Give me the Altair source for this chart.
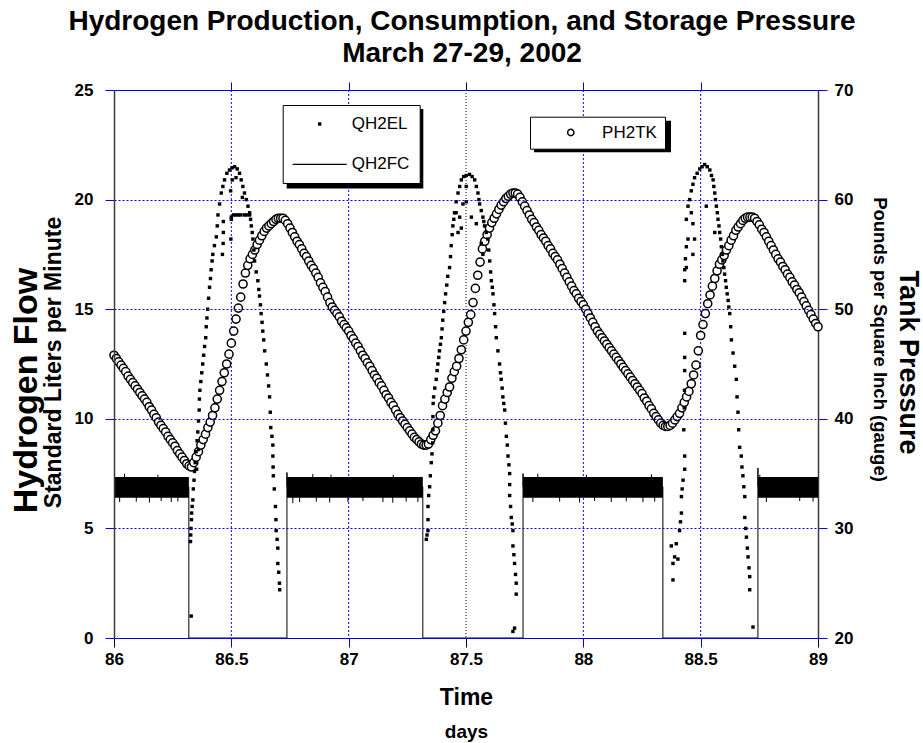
import altair as alt
import pandas as pd

FONT = "Liberation Sans"
BLUE = "#0000ee"
DARK = "#3a3a3a"
NB = "\u00a0"

# ---------------- data ----------------
x_labels = [86, 86.5, 87, 87.5, 88, 88.5, 89]
x_blue_grid = [86.5, 87, 88, 88.5]
x_black_grid = [87.5]
x_black_ticks = [86, 87.5, 89]
flow_ticks = [0, 5, 10, 15, 20, 25]
psi_ticks = [20, 30, 40, 50, 60, 70]

# QH2FC : fuel-cell consumption (on / off)
fc_seg_start = [86.0, 86.737, 87.743, 88.744]
fc_seg_end = [86.319, 87.316, 88.339, 89.0]
fc_band_lo = [6.4, 6.4, 6.4, 6.4]
fc_band_hi = [7.35, 7.35, 7.35, 7.35]

fc_t = [86.0, 86.319, 86.319, 86.737, 86.737, 86.737, 87.316, 87.316, 87.743,
        87.743, 87.743, 88.339, 88.339, 88.744, 88.744, 88.744, 89.0]
fc_v = [6.9, 6.9, 0, 0, 7.55, 6.9, 6.9, 0, 0, 7.5, 6.9, 6.9, 0, 0, 7.75, 6.9, 6.9]

spike_t = [86.024, 86.095, 86.151, 86.201, 86.244, 86.272, 86.762, 86.791, 86.862,
           86.919, 86.997, 87.061, 87.146, 87.188, 87.245, 87.295, 87.785, 87.899,
           87.984, 88.048, 88.119, 88.183, 88.254, 88.304, 88.780, 88.922, 88.979,
           86.045, 86.187, 86.847, 86.925, 87.190, 87.806, 88.013, 88.290, 88.752]
spike_lo = [6.2, 6.22, 6.18, 6.25, 6.2, 6.23, 6.15, 6.2, 6.22, 6.18, 6.2, 6.25, 6.2,
            6.17, 6.22, 6.2, 6.2, 6.22, 6.18, 6.25, 6.2, 6.23, 6.2, 6.22, 6.2, 6.25, 6.22,
            7.0, 7.0, 7.0, 7.0, 7.0, 7.0, 7.0, 7.0, 7.0]
spike_hi = [6.9, 6.9, 6.9, 6.9, 6.9, 6.9, 6.9, 6.9, 6.9, 6.9, 6.9, 6.9, 6.9, 6.9,
            6.9, 6.9, 6.9, 6.9, 6.9, 6.9, 6.9, 6.9, 6.9, 6.9, 6.9, 6.9, 6.9,
            7.5, 7.45, 7.48, 7.45, 7.45, 7.5, 7.45, 7.47, 7.45]

# QH2EL : electrolyzer production (scattered points)
el_t = [
    # hump 1
    86.329, 86.326, 86.327, 86.328, 86.330, 86.331, 86.333, 86.336, 86.338, 86.341,
    86.343, 86.346, 86.350, 86.354, 86.357, 86.360, 86.363, 86.364, 86.366, 86.370,
    86.374, 86.378, 86.382, 86.386, 86.391, 86.393, 86.396, 86.399, 86.403, 86.407,
    86.411, 86.414, 86.418, 86.421, 86.428, 86.436, 86.440, 86.443, 86.450, 86.457,
    86.464, 86.471, 86.481, 86.492, 86.503, 86.514,
    86.525, 86.535, 86.542, 86.549, 86.556, 86.564, 86.571, 86.578, 86.582, 86.585,
    86.589, 86.592, 86.596, 86.599, 86.606, 86.613, 86.617, 86.620, 86.624, 86.627,
    86.631, 86.634, 86.638, 86.642, 86.649, 86.654, 86.659, 86.663, 86.666, 86.668,
    86.673, 86.677, 86.677, 86.678, 86.679, 86.683, 86.688, 86.690, 86.691, 86.695,
    86.698, 86.698, 86.702, 86.705, 86.706,
    86.500, 86.510, 86.520, 86.530, 86.540, 86.555, 86.565, 86.578, 86.497, 86.504,
    86.520, 86.547, 86.498, 86.500, 86.462, 86.465, 86.466, 86.466, 86.352, 86.360,
    # hump 2
    87.331, 87.334, 87.338, 87.338, 87.338, 87.341, 87.345, 87.348, 87.352, 87.355,
    87.358, 87.359, 87.359, 87.360, 87.362, 87.367, 87.373, 87.377, 87.380, 87.384,
    87.387, 87.391, 87.395, 87.398, 87.401, 87.405, 87.409, 87.413, 87.418, 87.422,
    87.430, 87.434, 87.437, 87.441, 87.444, 87.448, 87.451, 87.458, 87.466, 87.473,
    87.480, 87.490, 87.501, 87.515,
    87.526, 87.537, 87.544, 87.551, 87.555, 87.558, 87.565, 87.572, 87.576, 87.579,
    87.586, 87.593, 87.597, 87.601, 87.605, 87.608, 87.612, 87.615, 87.619, 87.622,
    87.626, 87.629, 87.636, 87.643, 87.647, 87.650, 87.654, 87.657, 87.661, 87.665,
    87.668, 87.672, 87.676, 87.679, 87.683, 87.686, 87.686, 87.686, 87.690, 87.693,
    87.697, 87.700, 87.700, 87.704, 87.707, 87.711, 87.714, 87.714, 87.707, 87.700,
    87.458, 87.473, 87.487, 87.501, 87.501, 87.523, 87.544, 87.466, 87.480, 87.565,
    87.572,
    # hump 3
    88.382, 88.382, 88.375, 88.389, 88.396, 88.403, 88.410, 88.414, 88.418, 88.418,
    88.421, 88.425, 88.432, 88.432, 88.428, 88.430, 88.431, 88.432, 88.432, 88.432,
    88.432, 88.432, 88.435, 88.439, 88.446, 88.439, 88.446, 88.453, 88.460, 88.467,
    88.474, 88.485, 88.496, 88.506, 88.517,
    88.528, 88.539, 88.546, 88.553, 88.556, 88.560, 88.563, 88.567, 88.571, 88.574,
    88.578, 88.581, 88.585, 88.588, 88.592, 88.595, 88.599, 88.602, 88.606, 88.609,
    88.613, 88.617, 88.620, 88.624, 88.628, 88.631, 88.638, 88.645, 88.652, 88.655,
    88.659, 88.662, 88.666, 88.673, 88.676, 88.680, 88.684, 88.688, 88.688, 88.692,
    88.695, 88.699, 88.702, 88.706, 88.709, 88.709, 88.723,
    88.460, 88.467, 88.474, 88.467, 88.439, 88.524, 88.560,
]
el_v = [
    # hump 1
    1.0, 4.4, 4.7, 5.0, 5.4, 5.7, 6.0, 6.3, 6.8, 7.2,
    7.6, 8.0, 8.5, 9.0, 9.4, 9.9, 10.4, 10.9, 11.3, 11.7,
    12.1, 12.5, 12.9, 13.3, 13.7, 14.2, 14.6, 15.0, 15.5, 16.0,
    16.4, 16.8, 17.2, 17.5, 17.9, 18.3, 18.8, 19.3, 19.8, 20.3,
    20.6, 20.9, 21.2, 21.35, 21.45, 21.5,
    21.4, 21.2, 20.9, 20.6, 20.3, 20.0, 19.7, 19.4, 19.1, 18.8,
    18.5, 18.2, 17.7, 17.2, 16.7, 16.3, 15.9, 15.6, 15.2, 14.8,
    14.4, 14.0, 13.6, 13.1, 12.5, 12.0, 11.5, 11.0, 10.3, 9.6,
    9.2, 8.8, 8.3, 7.8, 7.4, 6.8, 6.0, 5.4, 4.9, 4.5,
    4.1, 3.4, 3.0, 2.5, 2.2,
    19.2, 19.3, 19.3, 19.3, 19.3, 19.3, 19.3, 19.3, 20.4, 20.9,
    21.0, 20.1, 18.2, 19.1, 17.5, 18.0, 18.5, 19.0, 7.7, 8.6,
    # hump 2
    4.5, 4.7, 4.9, 5.4, 6.0, 6.5, 6.9, 7.4, 8.0, 8.4,
    8.9, 9.5, 10.1, 10.7, 11.0, 11.4, 11.8, 12.2, 12.5, 12.8,
    13.1, 13.4, 13.7, 14.1, 14.5, 14.9, 15.3, 15.7, 16.1, 16.5,
    16.9, 17.4, 17.9, 18.4, 18.8, 19.1, 19.4, 19.9, 20.3, 20.6,
    20.9, 21.05, 21.1, 21.15,
    21.05, 20.9, 20.6, 20.3, 20.0, 19.8, 19.5, 19.2, 19.0, 18.8,
    18.5, 18.2, 17.7, 17.2, 16.7, 16.3, 16.0, 15.7, 15.2, 14.8,
    14.2, 13.7, 13.1, 12.5, 12.1, 11.8, 11.4, 11.0, 10.7, 10.4,
    9.8, 9.2, 8.8, 8.3, 7.9, 7.5, 7.0, 6.5, 6.0, 5.5,
    5.2, 4.9, 4.2, 3.8, 3.4, 2.9, 2.5, 2.0, 0.45, 0.3,
    19.4, 19.2, 19.8, 20.6, 19.9, 19.2, 18.9, 18.5, 18.7, 18.0,
    17.5,
    # hump 3
    2.65, 3.4, 4.2, 3.7, 4.3, 3.6, 4.9, 5.3, 5.7, 6.45,
    6.8, 7.2, 7.7, 8.3, 9.5, 10.5, 11.3, 12.2, 12.8, 13.9,
    16.3, 16.8, 17.3, 17.85, 18.2, 19.1, 19.7, 20.0, 20.4, 20.7,
    21.0, 21.2, 21.4, 21.5, 21.6,
    21.5, 21.35, 21.1, 20.9, 20.6, 20.3, 20.0, 19.7, 19.4, 19.1,
    18.8, 18.5, 18.2, 17.85, 17.5, 17.2, 16.9, 16.6, 16.3, 16.0,
    15.7, 15.4, 15.1, 14.8, 14.2, 13.6, 13.0, 12.4, 11.8, 11.0,
    10.3, 9.5, 8.7, 8.3, 7.8, 7.4, 6.9, 6.45, 5.5, 5.0,
    4.6, 4.1, 3.7, 3.2, 2.8, 2.2, 0.5,
    19.4, 18.9, 18.2, 17.5, 16.9, 19.7, 18.5,
]

# PH2TK : tank pressure, psig, one reading every 0.01 day from 86.00 to 89.00
ph2tk = [
    45.8, 45.5, 45.2, 44.9, 44.6, 44.3, 43.9, 43.6, 43.3, 43.0,
    42.7, 42.4, 42.1, 41.8, 41.5, 41.1, 40.8, 40.4, 40.1, 39.7,
    39.4, 39.1, 38.8, 38.4, 38.1, 37.8, 37.5, 37.1, 36.8, 36.5,
    36.2, 35.9, 35.7, 35.6, 36.0, 36.5, 37.0, 37.6, 38.1, 38.6,
    39.2, 39.7, 40.3, 41.0, 41.8, 42.6, 43.4, 44.2, 45.0, 45.9,
    46.9, 48.0, 49.1, 50.1, 51.1, 52.3, 53.3, 54.0, 54.6, 55.0,
    55.4, 55.9, 56.3, 56.7, 57.1, 57.4, 57.6, 57.8, 58.0, 58.2,
    58.3, 58.3, 58.3, 58.1, 57.8, 57.4, 57.0, 56.6, 56.2, 55.9,
    55.5, 55.1, 54.8, 54.4, 54.0, 53.7, 53.3, 52.9, 52.4, 52.0,
    51.6, 51.1, 50.6, 50.2, 49.9, 49.6, 49.3, 48.9, 48.6, 48.3,
    48.0, 47.6, 47.3, 46.9, 46.6, 46.2, 45.8, 45.5, 45.1, 44.8,
    44.4, 44.0, 43.7, 43.3, 43.0, 42.6, 42.2, 41.9, 41.5, 41.2,
    40.8, 40.4, 40.1, 39.8, 39.5, 39.2, 38.9, 38.6, 38.3, 38.1,
    37.9, 37.7, 37.6, 37.6, 37.7, 38.1, 38.5, 38.9, 39.6, 40.3,
    41.2, 41.8, 42.4, 42.9, 43.7, 44.3, 44.8, 45.5, 46.3, 47.2,
    48.0, 48.8, 49.5, 50.6, 51.9, 53.1, 54.3, 55.5, 56.2, 56.8,
    57.4, 57.9, 58.3, 58.7, 59.1, 59.5, 59.8, 60.1, 60.3, 60.5,
    60.6, 60.6, 60.5, 60.2, 59.8, 59.4, 59.0, 58.6, 58.2, 57.9,
    57.5, 57.2, 56.8, 56.5, 56.2, 55.8, 55.5, 55.1, 54.8, 54.5,
    54.1, 53.7, 53.3, 52.9, 52.5, 52.1, 51.7, 51.4, 51.0, 50.7,
    50.4, 50.0, 49.6, 49.2, 48.8, 48.4, 48.0, 47.7, 47.4, 47.1,
    46.8, 46.5, 46.2, 45.9, 45.6, 45.3, 45.0, 44.7, 44.4, 44.1,
    43.8, 43.5, 43.2, 42.9, 42.6, 42.3, 41.9, 41.6, 41.2, 40.9,
    40.5, 40.2, 39.9, 39.6, 39.4, 39.3, 39.3, 39.4, 39.6, 39.9,
    40.2, 40.5, 41.0, 41.5, 42.0, 42.5, 43.2, 44.0, 44.9, 46.2,
    47.6, 48.6, 49.6, 50.5, 51.3, 52.1, 52.8, 53.5, 54.1, 54.5,
    54.9, 55.4, 55.8, 56.3, 56.7, 57.2, 57.5, 57.8, 58.1, 58.3,
    58.4, 58.4, 58.4, 58.3, 58.0, 57.7, 57.3, 57.0, 56.6, 56.2,
    55.8, 55.4, 55.0, 54.6, 54.3, 53.9, 53.6, 53.2, 52.9, 52.5,
    52.2, 51.8, 51.5, 51.1, 50.7, 50.3, 49.9, 49.5, 49.1, 48.7,
    48.4,
]
p_time = [round(86 + i / 100, 2) for i in range(len(ph2tk))]

band_df = pd.DataFrame({"t0": fc_seg_start, "t1": fc_seg_end, "lo": fc_band_lo, "hi": fc_band_hi})
fc_df = pd.DataFrame({"t": fc_t, "v": fc_v, "i": list(range(len(fc_t)))})
spike_df = pd.DataFrame({"t": spike_t, "lo": spike_lo, "hi": spike_hi})
el_df = pd.DataFrame({"t": el_t, "v": el_v, "series": ["QH2EL"] * len(el_t)})
p_df = pd.DataFrame({"t": p_time, "p": ph2tk, "series": ["PH2TK"] * len(ph2tk)})
vblue_df = pd.DataFrame({"t": x_blue_grid})
vblack_df = pd.DataFrame({"t": x_black_grid})
one_df = pd.DataFrame({"k": [0]})

# ---------------- scales / axes ----------------
xscale = alt.Scale(domain=[86, 89], nice=False, zero=False)
flow_scale = alt.Scale(domain=[0, 25], nice=False, zero=False)
psi_scale = alt.Scale(domain=[20, 70], nice=False, zero=False)

y_grid_dash = {"condition": {"test": "datum.value == 0 || datum.value == 25", "value": []},
               "value": [2, 2]}

x_bottom_axis = alt.Axis(orient="bottom", values=x_labels, format="~g", grid=False,
                         ticks=False, domain=False,
                         labelFont=FONT, labelFontSize=17, labelFontWeight="bold",
                         labelColor="black", labelPadding=13, labelFlush=False, labelOverlap=False,
                         title="Time", titleFont=FONT, titleFontSize=23, titleFontWeight="bold",
                         titleColor="black", titleY=59, titleBaseline="middle")
x_blue_axis = alt.Axis(orient="bottom", values=x_blue_grid, labels=False, grid=False,
                       ticks=True, tickColor=BLUE, tickSize=9, domain=False, title=None)
x_black_axis = alt.Axis(orient="bottom", values=x_black_ticks, labels=False, grid=False,
                        ticks=True, tickColor="black", tickSize=9, domain=False, title=None)
days_axis = alt.Axis(orient="bottom", labels=False, ticks=False, domain=False, grid=False,
                     title="days", titleFont=FONT, titleFontSize=19, titleFontWeight="bold",
                     titleColor="black", titleY=93, titleBaseline="middle")
x_top_axis = alt.Axis(orient="top", values=x_blue_grid, labels=False, ticks=True, tickSize=8,
                      tickColor=BLUE, domain=False, grid=False, title=None)
x_top_black_axis = alt.Axis(orient="top", values=x_black_grid, labels=False, ticks=True,
                            tickSize=8, tickColor="black", domain=False, grid=False, title=None)

left_axis = alt.Axis(orient="left", values=flow_ticks, grid=True, gridColor=BLUE,
                     gridDash=y_grid_dash, gridWidth=1, tickColor=BLUE, tickSize=9,
                     domainColor=DARK, domainWidth=1.5, zindex=1,
                     labelFont=FONT, labelFontSize=17, labelFontWeight="bold", labelColor="black",
                     labelPadding=12, labelOverlap=False,
                     title="Standard Liters per Minute", titleFont=FONT, titleFontSize=23,
                     titleFontWeight="bold", titleColor="black", titleX=-61, titleY=272,
                     titleBaseline="middle", titleAngle=-90)
hflow_axis = alt.Axis(orient="left", labels=False, ticks=False, domain=False, grid=False,
                      title="Hydrogen Flow", titleFont=FONT, titleFontSize=34,
                      titleFontWeight="bold", titleColor="black", titleX=-88, titleY=300,
                      titleBaseline="middle", titleAngle=-90)
right_axis = alt.Axis(orient="right", values=psi_ticks, grid=False, tickColor=BLUE, tickSize=9,
                      domainColor=DARK, domainWidth=1.5,
                      labelFont=FONT, labelFontSize=17, labelFontWeight="bold", labelColor="black",
                      labelPadding=7, labelOverlap=False,
                      title="Pounds per Square Inch (gauge)", titleFont=FONT, titleFontSize=18.5,
                      titleFontWeight="bold", titleColor="black", titleX=61, titleY=249,
                      titleBaseline="middle", titleAngle=90)
tank_axis = alt.Axis(orient="right", labels=False, ticks=False, domain=False, grid=False,
                     title="Tank Pressure", titleFont=FONT, titleFontSize=27,
                     titleFontWeight="bold", titleColor="black", titleX=89, titleY=272,
                     titleBaseline="middle", titleAngle=90)

sq_path = "M-0.19,-0.19H0.19V0.19H-0.19Z"
line_path = "M-3,-0.067H3V0.067H-3Z"

legend1 = alt.Legend(orient="none", legendX=168.7, legendY=15, title=None,
                     fillColor="white", strokeColor="black", padding=10,
                     symbolSize=324, symbolStrokeWidth=0, symbolFillColor="black",
                     symbolOffset=18, labelOffset=23, rowPadding=23.4,
                     labelFont=FONT, labelFontSize=17, labelColor="black")
legend2 = alt.Legend(orient="none", legendX=416, legendY=26.7, title=None,
                     fillColor="white", strokeColor="black", padding=7.3,
                     symbolType="circle", symbolSize=40, symbolStrokeWidth=1.5,
                     symbolFillColor="white", symbolStrokeColor="black",
                     symbolOffset=25, labelOffset=22.8, labelFont=FONT, labelFontSize=17,
                     labelColor="black", labelExpr=f"datum.label + '{NB}{NB}'")

# ---------------- layers ----------------
vgrid_blue = alt.Chart(vblue_df).mark_rule(color=BLUE, strokeDash=[2, 2], strokeWidth=1).encode(
    x=alt.X("t:Q", scale=xscale, axis=x_top_axis))
vgrid_black = alt.Chart(vblack_df).mark_rule(color="black", strokeDash=[1, 2], strokeWidth=1).encode(
    x=alt.X("t:Q", scale=xscale, axis=x_top_black_axis))
band = alt.Chart(band_df).mark_rect(color="black").encode(
    x=alt.X("t0:Q", scale=xscale, axis=days_axis),
    x2="t1:Q",
    y=alt.Y("lo:Q", scale=flow_scale, axis=tank_axis),
    y2="hi:Q",
)
spikes = alt.Chart(spike_df).mark_rule(color="black", strokeWidth=1).encode(
    x=alt.X("t:Q", scale=xscale, axis=x_blue_axis),
    y=alt.Y("lo:Q", scale=flow_scale, axis=None),
    y2="hi:Q",
)
fc_line = alt.Chart(fc_df).mark_line(color="black", strokeWidth=1).encode(
    x=alt.X("t:Q", scale=xscale, axis=x_bottom_axis),
    y=alt.Y("v:Q", scale=flow_scale, axis=left_axis),
    order="i:Q",
)
pressure = alt.Chart(p_df).mark_point(shape="circle", filled=False, fill="white",
                                      strokeWidth=1.5, size=66, opacity=1).encode(
    x=alt.X("t:Q", scale=xscale, axis=x_black_axis),
    y=alt.Y("p:Q", scale=psi_scale, axis=right_axis),
    stroke=alt.Stroke("series:N", scale=alt.Scale(domain=["PH2TK"], range=["black"]),
                      legend=legend2),
)
el = alt.Chart(el_df).mark_point(filled=True, color="black", size=324, opacity=1,
                                 strokeWidth=0).encode(
    x=alt.X("t:Q", scale=xscale, axis=None),
    y=alt.Y("v:Q", scale=flow_scale, axis=hflow_axis),
    shape=alt.Shape("series:N", scale=alt.Scale(domain=["QH2EL", "QH2FC"],
                                                range=[sq_path, line_path]),
                    legend=legend1),
)
# drop shadows of the two legend boxes
shadow1 = alt.Chart(one_df).mark_rect(color="black").encode(
    x=alt.value(172.7), x2=alt.value(309.3), y=alt.value(19), y2=alt.value(98.4))
shadow2 = alt.Chart(one_df).mark_rect(color="black").encode(
    x=alt.value(420), x2=alt.value(557), y=alt.value(30.7), y2=alt.value(62.3))

chart = alt.layer(vgrid_blue, vgrid_black, band, spikes, fc_line, pressure, el,
                  shadow1, shadow2).resolve_scale(
    y="independent"
).resolve_axis(
    x="independent", y="independent"
).properties(
    width=704,
    height=548,
    autosize=alt.AutoSizeParams(type="none"),
    padding={"left": 114, "top": 90, "right": 105, "bottom": 105},
    background="white",
    title=alt.TitleParams(
        text=["Hydrogen Production, Consumption, and Storage Pressure", "March 27-29, 2002"],
        font=FONT, fontSize=28, fontWeight="bold", color="black", anchor="middle",
        frame="group", offset=13, lineHeight=32, dx=-4,
    ),
).configure_view(stroke=None)

chart.save("out.html", embed_options={"renderer": "svg", "actions": False})
